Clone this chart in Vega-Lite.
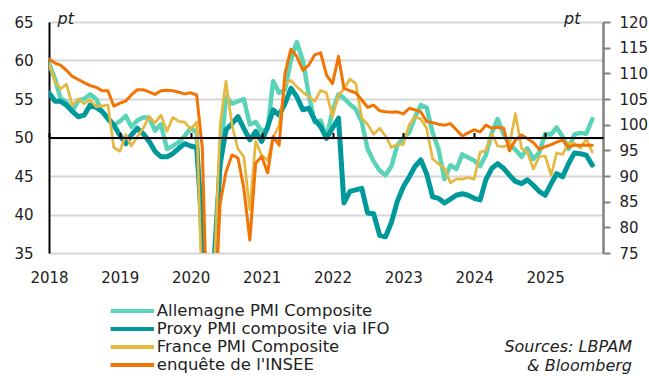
{
  "$schema": "https://vega.github.io/schema/vega-lite/v6.json",
  "width": 554,
  "height": 231,
  "autosize": {"type": "none"},
  "padding": {"left": 49, "top": 22, "right": 46, "bottom": 123},
  "background": "white",
  "config": {
    "font": "DejaVu Sans",
    "view": {"stroke": null},
    "axis": {"labelFont": "DejaVu Sans", "titleFont": "DejaVu Sans", "labelColor": "#222222", "titleColor": "#222222"},
    "axisLeft": {"values": [35, 40, 45, 50, 55, 60, 65], "grid": true, "gridColor": "#d6d6d6",
      "gridWidth": 2, "domainColor": "#000000", "domainWidth": 2, "ticks": false, "labelPadding": 16, "labelFontSize": 15,
      "titleAngle": 0, "titleX": 8, "titleY": 1, "titleAlign": "left", "titleBaseline": "alphabetic",
      "titleFontStyle": "italic", "titleFontWeight": "normal", "titleFontSize": 16}
  },
  "title": {
    "text": ["Sources: LBPAM", "& Bloomberg"],
    "orient": "bottom",
    "anchor": "end",
    "frame": "group",
    "align": "right",
    "font": "DejaVu Sans",
    "fontStyle": "italic",
    "fontWeight": "normal",
    "fontSize": 16,
    "color": "#222222",
    "lineHeight": 19.5,
    "dx": 29,
    "offset": -35
  },
  "data": {
    "values": [
      {"d": "2018-01-01", "de": 59.6, "px": 55.8, "fr": 59.6, "in": 112.8},
      {"d": "2018-02-01", "de": 57.6, "px": 54.7, "fr": 57.3, "in": 112.0},
      {"d": "2018-03-01", "de": 55.1, "px": 54.7, "fr": 56.3, "in": 111.6},
      {"d": "2018-04-01", "de": 54.6, "px": 54.2, "fr": 56.9, "in": 110.6},
      {"d": "2018-05-01", "de": 53.4, "px": 53.4, "fr": 54.2, "in": 109.4},
      {"d": "2018-06-01", "de": 54.8, "px": 52.7, "fr": 55.0, "in": 108.8},
      {"d": "2018-07-01", "de": 55.0, "px": 52.9, "fr": 54.4, "in": 108.2},
      {"d": "2018-08-01", "de": 55.6, "px": 54.2, "fr": 54.9, "in": 107.6},
      {"d": "2018-09-01", "de": 55.0, "px": 53.9, "fr": 54.0, "in": 107.3},
      {"d": "2018-10-01", "de": 53.4, "px": 53.4, "fr": 54.1, "in": 106.6},
      {"d": "2018-11-01", "de": 52.3, "px": 52.5, "fr": 54.2, "in": 106.6},
      {"d": "2018-12-01", "de": 51.6, "px": 51.6, "fr": 48.7, "in": 103.6},
      {"d": "2019-01-01", "de": 52.1, "px": 50.3, "fr": 48.2, "in": 104.2},
      {"d": "2019-02-01", "de": 52.8, "px": 49.2, "fr": 50.4, "in": 104.6},
      {"d": "2019-03-01", "de": 51.4, "px": 50.3, "fr": 48.9, "in": 105.8},
      {"d": "2019-04-01", "de": 52.2, "px": 51.2, "fr": 50.1, "in": 106.8},
      {"d": "2019-05-01", "de": 52.6, "px": 50.5, "fr": 51.2, "in": 106.8},
      {"d": "2019-06-01", "de": 52.6, "px": 49.5, "fr": 52.7, "in": 106.4},
      {"d": "2019-07-01", "de": 50.9, "px": 48.2, "fr": 51.9, "in": 105.9},
      {"d": "2019-08-01", "de": 51.7, "px": 47.5, "fr": 52.9, "in": 106.6},
      {"d": "2019-09-01", "de": 48.5, "px": 47.5, "fr": 50.8, "in": 106.7},
      {"d": "2019-10-01", "de": 48.9, "px": 47.9, "fr": 52.6, "in": 106.6},
      {"d": "2019-11-01", "de": 49.4, "px": 48.6, "fr": 52.1, "in": 106.3},
      {"d": "2019-12-01", "de": 50.2, "px": 49.2, "fr": 52.0, "in": 106.0},
      {"d": "2020-01-01", "de": 51.2, "px": 48.9, "fr": 51.1, "in": 106.2},
      {"d": "2020-02-01", "de": 50.7, "px": 48.7, "fr": 52.0, "in": 105.8},
      {"d": "2020-03-01", "de": 35.0, "px": 38.0, "fr": 28.9, "in": 95.5},
      {"d": "2020-04-01", "de": 17.4, "px": 25.0, "fr": 11.1, "in": 53.0},
      {"d": "2020-05-01", "de": 32.3, "px": 34.0, "fr": 32.1, "in": 60.0},
      {"d": "2020-06-01", "de": 47.0, "px": 46.5, "fr": 51.7, "in": 84.7},
      {"d": "2020-07-01", "de": 55.3, "px": 51.0, "fr": 57.3, "in": 90.8},
      {"d": "2020-08-01", "de": 54.4, "px": 51.8, "fr": 51.6, "in": 94.1},
      {"d": "2020-09-01", "de": 54.7, "px": 52.7, "fr": 48.5, "in": 93.5},
      {"d": "2020-10-01", "de": 55.0, "px": 51.2, "fr": 47.5, "in": 87.6},
      {"d": "2020-11-01", "de": 51.7, "px": 49.7, "fr": 40.6, "in": 77.5},
      {"d": "2020-12-01", "de": 52.0, "px": 50.8, "fr": 49.5, "in": 92.5},
      {"d": "2021-01-01", "de": 50.8, "px": 49.5, "fr": 47.7, "in": 93.8},
      {"d": "2021-02-01", "de": 51.1, "px": 51.4, "fr": 47.0, "in": 90.6},
      {"d": "2021-03-01", "de": 57.3, "px": 53.6, "fr": 50.0, "in": 97.7},
      {"d": "2021-04-01", "de": 55.8, "px": 52.9, "fr": 51.6, "in": 96.0},
      {"d": "2021-05-01", "de": 56.2, "px": 54.4, "fr": 57.0, "in": 110.0},
      {"d": "2021-06-01", "de": 60.1, "px": 56.4, "fr": 57.4, "in": 114.7},
      {"d": "2021-07-01", "de": 62.4, "px": 55.3, "fr": 56.6, "in": 113.3},
      {"d": "2021-08-01", "de": 60.0, "px": 53.6, "fr": 55.9, "in": 110.6},
      {"d": "2021-09-01", "de": 55.5, "px": 53.8, "fr": 55.3, "in": 111.6},
      {"d": "2021-10-01", "de": 52.0, "px": 52.3, "fr": 54.7, "in": 113.6},
      {"d": "2021-11-01", "de": 52.2, "px": 51.4, "fr": 56.1, "in": 114.0},
      {"d": "2021-12-01", "de": 49.9, "px": 49.9, "fr": 55.8, "in": 109.7},
      {"d": "2022-01-01", "de": 53.5, "px": 51.2, "fr": 52.7, "in": 108.0},
      {"d": "2022-02-01", "de": 55.6, "px": 52.5, "fr": 55.5, "in": 113.3},
      {"d": "2022-03-01", "de": 55.1, "px": 41.5, "fr": 56.3, "in": 107.1},
      {"d": "2022-04-01", "de": 54.3, "px": 43.0, "fr": 57.6, "in": 106.6},
      {"d": "2022-05-01", "de": 53.7, "px": 43.2, "fr": 57.0, "in": 106.2},
      {"d": "2022-06-01", "de": 52.0, "px": 43.4, "fr": 52.5, "in": 104.8},
      {"d": "2022-07-01", "de": 48.5, "px": 40.2, "fr": 51.7, "in": 103.4},
      {"d": "2022-08-01", "de": 46.9, "px": 40.1, "fr": 50.4, "in": 103.8},
      {"d": "2022-09-01", "de": 45.7, "px": 37.3, "fr": 51.2, "in": 102.7},
      {"d": "2022-10-01", "de": 45.1, "px": 37.1, "fr": 50.2, "in": 102.5},
      {"d": "2022-11-01", "de": 46.3, "px": 39.0, "fr": 48.7, "in": 102.4},
      {"d": "2022-12-01", "de": 49.0, "px": 41.7, "fr": 49.1, "in": 102.5},
      {"d": "2023-01-01", "de": 49.9, "px": 43.6, "fr": 49.1, "in": 102.1},
      {"d": "2023-02-01", "de": 50.7, "px": 44.9, "fr": 51.7, "in": 103.2},
      {"d": "2023-03-01", "de": 52.6, "px": 46.2, "fr": 52.7, "in": 102.9},
      {"d": "2023-04-01", "de": 54.2, "px": 47.1, "fr": 52.4, "in": 102.5},
      {"d": "2023-05-01", "de": 53.9, "px": 45.3, "fr": 51.2, "in": 100.6},
      {"d": "2023-06-01", "de": 50.6, "px": 42.3, "fr": 47.2, "in": 100.4},
      {"d": "2023-07-01", "de": 48.5, "px": 42.1, "fr": 46.6, "in": 100.1},
      {"d": "2023-08-01", "de": 44.6, "px": 41.5, "fr": 46.0, "in": 99.9},
      {"d": "2023-09-01", "de": 46.4, "px": 42.0, "fr": 44.1, "in": 100.2},
      {"d": "2023-10-01", "de": 45.9, "px": 42.5, "fr": 44.6, "in": 99.0},
      {"d": "2023-11-01", "de": 47.8, "px": 42.7, "fr": 44.6, "in": 97.8},
      {"d": "2023-12-01", "de": 47.4, "px": 42.5, "fr": 44.8, "in": 98.4},
      {"d": "2024-01-01", "de": 47.0, "px": 42.1, "fr": 44.6, "in": 99.0},
      {"d": "2024-02-01", "de": 46.3, "px": 41.9, "fr": 48.1, "in": 98.6},
      {"d": "2024-03-01", "de": 47.7, "px": 44.5, "fr": 48.3, "in": 99.9},
      {"d": "2024-04-01", "de": 50.6, "px": 46.0, "fr": 50.5, "in": 99.3},
      {"d": "2024-05-01", "de": 52.4, "px": 46.6, "fr": 48.9, "in": 99.5},
      {"d": "2024-06-01", "de": 50.4, "px": 46.0, "fr": 48.8, "in": 99.3},
      {"d": "2024-07-01", "de": 49.1, "px": 45.1, "fr": 49.1, "in": 94.9},
      {"d": "2024-08-01", "de": 48.4, "px": 44.3, "fr": 53.1, "in": 97.0},
      {"d": "2024-09-01", "de": 47.5, "px": 44.0, "fr": 48.6, "in": 98.0},
      {"d": "2024-10-01", "de": 48.6, "px": 44.5, "fr": 48.1, "in": 97.3},
      {"d": "2024-11-01", "de": 47.2, "px": 43.8, "fr": 45.9, "in": 96.5},
      {"d": "2024-12-01", "de": 48.0, "px": 43.0, "fr": 47.5, "in": 95.2},
      {"d": "2025-01-01", "de": 50.5, "px": 42.5, "fr": 47.6, "in": 95.7},
      {"d": "2025-02-01", "de": 50.4, "px": 44.0, "fr": 45.1, "in": 96.1},
      {"d": "2025-03-01", "de": 51.3, "px": 45.3, "fr": 48.0, "in": 96.6},
      {"d": "2025-04-01", "de": 50.1, "px": 44.9, "fr": 47.8, "in": 97.0},
      {"d": "2025-05-01", "de": 48.5, "px": 46.6, "fr": 49.3, "in": 95.6},
      {"d": "2025-06-01", "de": 50.4, "px": 48.0, "fr": 49.2, "in": 96.0},
      {"d": "2025-07-01", "de": 50.6, "px": 47.9, "fr": 48.6, "in": 96.0},
      {"d": "2025-08-01", "de": 50.5, "px": 47.7, "fr": 49.8, "in": 96.0},
      {"d": "2025-09-01", "de": 52.4, "px": 46.4, "fr": 48.1, "in": 96.0}
    ]
  },
  "layer": [
    {
      "encoding": {
        "x": {"field": "d", "type": "temporal",
          "scale": {"type": "utc", "domain": [{"year": 2018, "month": 1, "date": 1, "utc": true}, {"year": 2025, "month": 10, "date": 26, "utc": true}]},
          "axis": {"values": [{"year": 2018, "utc": true}, {"year": 2019, "utc": true}, {"year": 2020, "utc": true}, {"year": 2021, "utc": true}, {"year": 2022, "utc": true}, {"year": 2023, "utc": true}, {"year": 2024, "utc": true}, {"year": 2025, "utc": true}],
            "format": "%Y", "domain": false, "ticks": false, "grid": false, "labelPadding": 17, "labelFontSize": 15, "labelFlush": false, "labelOverlap": false, "title": null}}
      },
      "layer": [
        {
          "mark": {"type": "line", "clip": true, "strokeWidth": 4.5, "strokeJoin": "round", "strokeCap": "round"},
          "encoding": {
            "y": {"field": "de", "type": "quantitative",
              "scale": {"domain": [35, 65], "nice": false, "zero": false},
              "axis": {"title": "pt"}},
            "color": {"datum": "Allemagne PMI Composite", "type": "nominal",
              "scale": {"domain": ["Allemagne PMI Composite", "Proxy PMI composite via IFO", "France PMI Composite", "enquête de l'INSEE"], "range": ["#5ad3b8", "#00999b", "#e5b840", "#f27405"]},
              "legend": {"orient": "none", "legendX": 73.8, "legendY": 279.5, "title": null, "direction": "vertical",
                "symbolType": "M-2.93,0H2.93", "symbolSize": 219, "labelFontSize": 16.5, "labelFont": "DejaVu Sans", "labelColor": "#222222",
                "labelOffset": 15, "rowPadding": 0, "padding": 0, "labelLimit": 400, "symbolStrokeWidth": 4}}
          }
        },
        {
          "mark": {"type": "line", "clip": true, "strokeWidth": 5, "strokeJoin": "round", "strokeCap": "round"},
          "encoding": {
            "y": {"field": "px", "type": "quantitative", "axis": {"title": "pt"}},
            "color": {"datum": "Proxy PMI composite via IFO", "type": "nominal"}
          }
        },
        {
          "mark": {"type": "line", "clip": true, "strokeWidth": 2.7, "strokeJoin": "round", "strokeCap": "round"},
          "encoding": {
            "y": {"field": "fr", "type": "quantitative", "axis": {"title": "pt"}},
            "color": {"datum": "France PMI Composite", "type": "nominal"}
          }
        }
      ]
    },
    {
      "mark": {"type": "line", "clip": true, "strokeWidth": 3, "strokeJoin": "round", "strokeCap": "round"},
      "encoding": {
        "x": {"field": "d", "type": "temporal",
          "axis": {"values": [{"year": 2018, "utc": true}, {"year": 2019, "utc": true}, {"year": 2020, "utc": true}, {"year": 2021, "utc": true}, {"year": 2022, "utc": true}, {"year": 2023, "utc": true}, {"year": 2024, "utc": true}, {"year": 2025, "utc": true}],
            "labels": false, "domain": true, "domainColor": "#000000", "domainWidth": 2, "grid": false, "ticks": true, "tickColor": "#000000", "tickWidth": 2, "tickSize": 5, "offset": -115.5, "zindex": 1, "title": null}},
        "y": {"field": "in", "type": "quantitative",
          "scale": {"domain": [75, 120], "nice": false, "zero": false},
          "axis": {"orient": "right", "values": [75, 80, 85, 90, 95, 100, 105, 110, 115, 120], "grid": false,
            "domainColor": "#808080", "domainWidth": 2.5, "tickColor": "#808080", "ticks": true, "tickWidth": 2, "tickSize": 7, "labelPadding": 9, "labelFontSize": 15,
            "title": "pt", "titleAngle": 0, "titleX": -23, "titleY": 1, "titleAlign": "right", "titleBaseline": "alphabetic",
            "titleFontStyle": "italic", "titleFontWeight": "normal", "titleFontSize": 16}},
        "color": {"datum": "enquête de l'INSEE", "type": "nominal"}
      }
    }
  ],
  "resolve": {"scale": {"y": "independent"}, "axis": {"x": "independent"}}
}
